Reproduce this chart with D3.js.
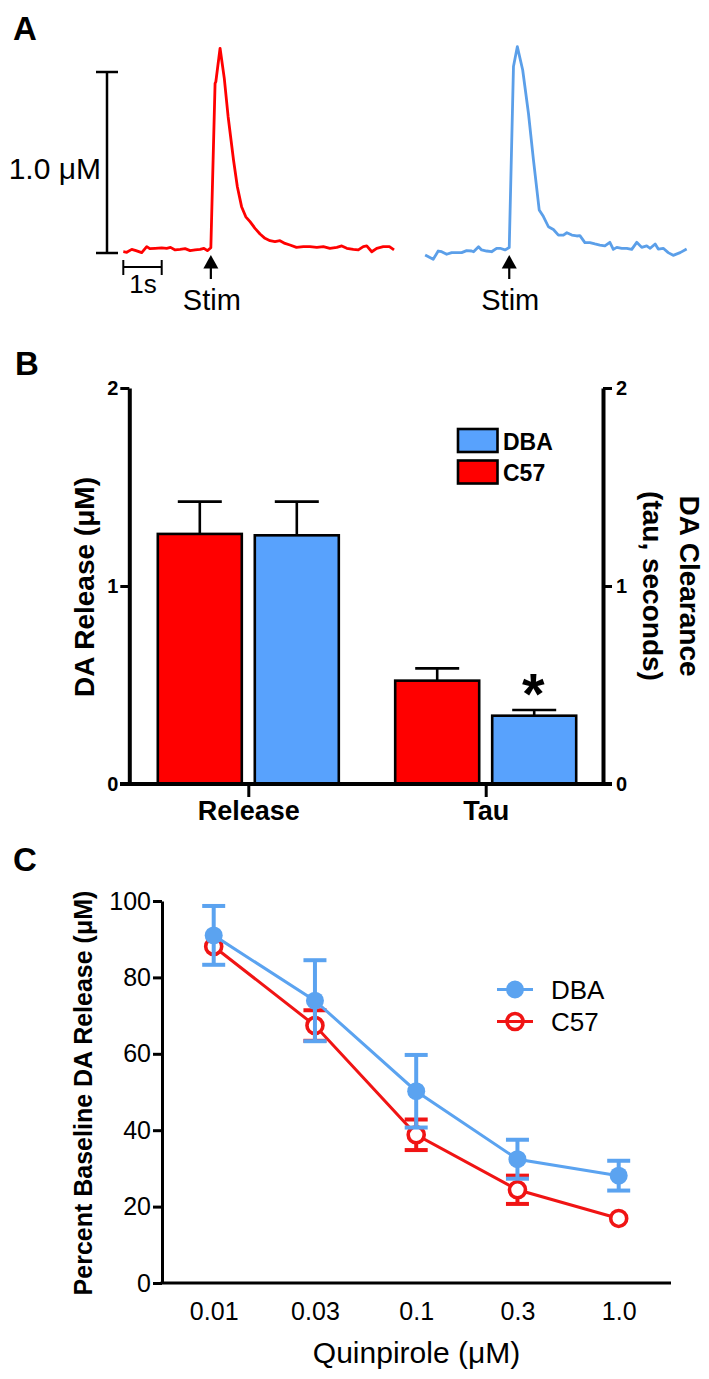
<!DOCTYPE html>
<html><head><meta charset="utf-8">
<script src="https://cdn.jsdelivr.net/npm/d3@7"></script>
<style>body{margin:0;background:#fff}svg{display:block;font-family:"Liberation Sans",Arial,Helvetica,sans-serif}</style>
</head><body><svg id="c" width="709" height="1379"></svg>
<script>
// ---------- Panel A: example voltammetry traces (t in s, conc in μM) ----------
const traceC57 = [[0,0.007],[0.09,0.004],[0.22,0.02],[0.33,0.013],[0.48,0.002],[0.61,0.035],[0.69,0.024],[0.83,0.026],[1.0,0.028],[1.13,0.026],[1.23,0.031],[1.35,0.017],[1.48,0.02],[1.61,0.024],[1.74,0.013],[1.87,0.017],[2.0,0.02],[2.1,0.026],[2.19,0.013],[2.28,0.029],[2.39,0.937],[2.41,0.946],[2.52,1.131],[2.63,0.965],[2.73,0.753],[2.87,0.514],[2.97,0.366],[3.08,0.256],[3.19,0.2],[3.3,0.173],[3.43,0.136],[3.56,0.105],[3.69,0.081],[3.82,0.068],[3.95,0.063],[4.08,0.068],[4.21,0.053],[4.34,0.044],[4.51,0.031],[4.69,0.035],[4.86,0.035],[5.04,0.031],[5.21,0.035],[5.38,0.026],[5.56,0.031],[5.69,0.039],[5.82,0.026],[5.99,0.02],[6.12,0.017],[6.25,0.035],[6.34,0.039],[6.47,0.007],[6.6,0.026],[6.77,0.035],[6.93,0.035],[7.05,0.017]];
const traceDBA = [[0.09,-0.011],[0.3,-0.035],[0.43,0.011],[0.52,0.007],[0.65,-0.007],[0.78,0.002],[0.91,0.002],[1.04,0.002],[1.17,0.013],[1.3,0.011],[1.35,0.007],[1.48,0.035],[1.56,0.017],[1.69,0.011],[1.82,0.007],[1.95,0.026],[2.04,0.026],[2.17,0.017],[2.28,0.03],[2.39,1.03],[2.49,1.14],[2.63,1.011],[2.78,0.772],[2.91,0.514],[3.06,0.238],[3.17,0.201],[3.3,0.145],[3.43,0.13],[3.56,0.099],[3.69,0.099],[3.78,0.112],[3.91,0.099],[4.04,0.094],[4.12,0.096],[4.25,0.057],[4.38,0.057],[4.51,0.05],[4.64,0.044],[4.77,0.039],[4.9,0.059],[4.99,0.02],[5.08,0.031],[5.21,0.026],[5.34,0.026],[5.47,0.02],[5.6,0.059],[5.73,0.031],[5.86,0.039],[5.95,0.026],[6.08,0.05],[6.16,0.022],[6.29,0.026],[6.42,0.002],[6.55,-0.013],[6.73,0.002],[6.9,0.022]];
const stimTime = 2.28;

// ---------- Panel B: release and tau ----------
const groupsB = ["Release", "Tau"];
const strainsB = ["C57", "DBA"];
const meanC57B = [1.263, 0.522];
const semC57B = [0.163, 0.062];
const meanDBAB = [1.256, 0.345];
const semDBAB = [0.17, 0.029];
const ticksB = [0, 1, 2];

// ---------- Panel C: quinpirole dose response ----------
const dosesC = ["0.01", "0.03", "0.1", "0.3", "1.0"];
const meanDBAC = [91.0, 73.9, 50.2, 32.4, 28.1];
const semDBAC = [7.7, 10.6, 9.5, 5.1, 3.9];
const meanC57C = [88.1, 67.4, 38.8, 24.4, 16.9];
const semC57C = [1.2, 4.0, 4.0, 3.7, 0.6];
const ticksC = [0, 20, 40, 60, 80, 100];

const RED = "#ff0000", BLUE_A = "#5b9fe9", BLUE_B = "#58a2fd", BLUE_C = "#5ba3f0", RED_C = "#f01414";
const svg = d3.select("#c");

// ================= Panel A =================
const gA = svg.append("g");
gA.append("text").attr("x", 13).attr("y", 40).attr("font-size", 33).attr("font-weight", "bold").text("A");
const yA = d3.scaleLinear().domain([0, 1]).range([253, 72]);
const xRed = d3.scaleLinear().domain([0, 1]).range([123.3, 161.7]);
const xBlue = d3.scaleLinear().domain([0, 1]).range([421.7, 460.1]);
gA.append("line").attr("x1", 107).attr("x2", 107).attr("y1", yA(0)).attr("y2", yA(1)).attr("stroke", "#000").attr("stroke-width", 2.5);
[0, 1].forEach(v => gA.append("line").attr("x1", 96).attr("x2", 118).attr("y1", yA(v)).attr("y2", yA(v)).attr("stroke", "#000").attr("stroke-width", 2.5));
gA.append("text").attr("x", 101).attr("y", 179).attr("text-anchor", "end").attr("font-size", 30).text("1.0 μM");
gA.append("line").attr("x1", xRed(0)).attr("x2", xRed(1)).attr("y1", 267).attr("y2", 267).attr("stroke", "#000").attr("stroke-width", 2);
[0, 1].forEach(t => gA.append("line").attr("x1", xRed(t)).attr("x2", xRed(t)).attr("y1", 260).attr("y2", 275).attr("stroke", "#000").attr("stroke-width", 2));
gA.append("text").attr("x", 143).attr("y", 293).attr("text-anchor", "middle").attr("font-size", 26).text("1s");
const lineA = (xs) => d3.line().x(d => xs(d[0])).y(d => yA(d[1]));
gA.append("path").datum(traceC57).attr("d", lineA(xRed)).attr("fill", "none").attr("stroke", RED).attr("stroke-width", 2.8).attr("stroke-linejoin", "round");
gA.append("path").datum(traceDBA).attr("d", lineA(xBlue)).attr("fill", "none").attr("stroke", BLUE_A).attr("stroke-width", 2.8).attr("stroke-linejoin", "round");
[xRed, xBlue].forEach(xs => {
  const x = xs(stimTime);
  gA.append("path").attr("d", `M${x},255 L${x - 7.5},268.5 L${x + 7.5},268.5 Z`).attr("fill", "#000");
  gA.append("line").attr("x1", x).attr("x2", x).attr("y1", 266).attr("y2", 279).attr("stroke", "#000").attr("stroke-width", 2.2);
  gA.append("text").attr("x", x + 1).attr("y", 310).attr("text-anchor", "middle").attr("font-size", 29).text("Stim");
});

// ================= Panel B =================
const gB = svg.append("g");
gB.append("text").attr("x", 15).attr("y", 375).attr("font-size", 33).attr("font-weight", "bold").text("B");
const yB = d3.scaleLinear().domain([0, 2]).range([784, 388]);
const xB = d3.scalePoint().domain(groupsB).range([248.3, 485.7]);
const xSub = d3.scaleBand().domain(strainsB).range([-90.5, 90.5]).paddingInner(0.134);
const barsB = [];
groupsB.forEach((g, i) => {
  barsB.push({ g, s: "C57", m: meanC57B[i], e: semC57B[i], c: RED });
  barsB.push({ g, s: "DBA", m: meanDBAB[i], e: semDBAB[i], c: BLUE_B });
});
barsB.forEach(d => {
  const cx = xB(d.g) + xSub(d.s) + xSub.bandwidth() / 2;
  gB.append("line").attr("x1", cx).attr("x2", cx).attr("y1", yB(d.m)).attr("y2", yB(d.m + d.e)).attr("stroke", "#000").attr("stroke-width", 2.6);
  gB.append("line").attr("x1", cx - 22).attr("x2", cx + 22).attr("y1", yB(d.m + d.e)).attr("y2", yB(d.m + d.e)).attr("stroke", "#000").attr("stroke-width", 2.6);
});
gB.selectAll("rect.bar").data(barsB).enter().append("rect").attr("class", "bar")
  .attr("x", d => xB(d.g) + xSub(d.s)).attr("width", xSub.bandwidth())
  .attr("y", d => yB(d.m)).attr("height", d => yB(0) - yB(d.m))
  .attr("fill", d => d.c).attr("stroke", "#000").attr("stroke-width", 2.6);
const axL = gB.append("g").attr("transform", "translate(129.3,0)").call(d3.axisLeft(yB).tickValues(ticksB).tickFormat(d3.format("d")).tickSize(9).tickSizeOuter(0));
const axR = gB.append("g").attr("transform", "translate(603,0)").call(d3.axisRight(yB).tickValues(ticksB).tickFormat(d3.format("d")).tickSize(9).tickSizeOuter(0));
[axL, axR].forEach(a => {
  a.select(".domain").attr("stroke-width", 4);
  a.selectAll(".tick line").attr("stroke-width", 3);
  a.selectAll(".tick text").attr("font-size", 20).attr("font-weight", "bold").attr("font-family", "Liberation Sans, Arial, sans-serif");
});
axL.selectAll(".tick text").attr("x", -11);
axR.selectAll(".tick text").attr("x", 13);
gB.append("line").attr("x1", 120).attr("x2", 612).attr("y1", yB(0)).attr("y2", yB(0)).attr("stroke", "#000").attr("stroke-width", 4);
const axB = gB.append("g").attr("transform", `translate(0,${yB(0)})`).call(d3.axisBottom(xB).tickSize(13).tickSizeOuter(0));
axB.select(".domain").remove();
axB.selectAll(".tick line").attr("stroke-width", 3);
axB.selectAll(".tick text").attr("font-size", 27).attr("font-weight", "bold").attr("font-family", "Liberation Sans, Arial, sans-serif").attr("dy", null).attr("y", 36);
gB.append("text").attr("x", xB("Tau") + xSub("DBA") + xSub.bandwidth() / 2 - 1).attr("y", 714).attr("text-anchor", "middle").attr("font-size", 58).attr("font-weight", "bold").text("*");
const legB = [{ s: "DBA", c: BLUE_B, y: 429 }, { s: "C57", c: RED, y: 460.5 }];
legB.forEach(d => {
  gB.append("rect").attr("x", 458).attr("y", d.y).attr("width", 39.5).attr("height", 23).attr("fill", d.c).attr("stroke", "#000").attr("stroke-width", 2.6);
  gB.append("text").attr("x", 503).attr("y", d.y + 20.5).attr("font-size", 23).attr("font-weight", "bold").text(d.s);
});
gB.append("text").attr("transform", "translate(84,587) rotate(-90)").attr("text-anchor", "middle").attr("dominant-baseline", "central").attr("font-size", 28).attr("font-weight", "bold").text("DA Release (μM)");
gB.append("text").attr("transform", "translate(689,586) rotate(90)").attr("text-anchor", "middle").attr("dominant-baseline", "central").attr("font-size", 28).attr("font-weight", "bold").text("DA Clearance");
gB.append("text").attr("transform", "translate(652,586) rotate(90)").attr("text-anchor", "middle").attr("dominant-baseline", "central").attr("font-size", 28).attr("font-weight", "bold").text("(tau, seconds)");

// ================= Panel C =================
const gC = svg.append("g");
gC.append("text").attr("x", 13).attr("y", 871).attr("font-size", 33).attr("font-weight", "bold").text("C");
const xC = d3.scalePoint().domain(dosesC).range([213.7, 618.7]);
const yC = d3.scaleLinear().domain([0, 100]).range([1283, 901]);
const axCL = gC.append("g").attr("transform", "translate(162,0)").call(d3.axisLeft(yC).tickValues(ticksC).tickSize(9).tickSizeOuter(0));
axCL.select(".domain").attr("stroke-width", 3);
axCL.selectAll(".tick line").attr("stroke-width", 3);
axCL.selectAll(".tick text").attr("font-size", 25).attr("x", -11).attr("font-family", "Liberation Sans, Arial, sans-serif");
gC.append("line").attr("x1", 160.5).attr("x2", 671).attr("y1", yC(0)).attr("y2", yC(0)).attr("stroke", "#000").attr("stroke-width", 3);
const axCB = gC.append("g").attr("transform", `translate(0,${yC(0)})`).call(d3.axisBottom(xC).tickSize(0));
axCB.select(".domain").remove();
axCB.selectAll(".tick text").attr("font-size", 25).attr("dy", null).attr("y", 37).attr("font-family", "Liberation Sans, Arial, sans-serif");
gC.append("text").attr("x", 416.5).attr("y", 1363).attr("text-anchor", "middle").attr("font-size", 30).text("Quinpirole (μM)");
gC.append("text").attr("transform", "translate(83,1093) rotate(-90)").attr("text-anchor", "middle").attr("dominant-baseline", "central").attr("font-size", 25).attr("font-weight", "bold").text("Percent Baseline DA Release (μM)");

function series(means, sems, color, filled) {
  const r = filled ? 9 : 8;
  const pts = dosesC.map((d, i) => ({ d, m: means[i], e: sems[i] }));
  const g = gC.append("g");
  g.append("path").datum(pts).attr("d", d3.line().x(p => xC(p.d)).y(p => yC(p.m))).attr("fill", "none").attr("stroke", color).attr("stroke-width", 3);
  pts.forEach(p => {
    const x = xC(p.d);
    // error bars shorter than the symbol are hidden behind it (as in the original)
    if (Math.abs(yC(p.m + p.e) - yC(p.m)) <= r + 2) return;
    g.append("line").attr("x1", x).attr("x2", x).attr("y1", yC(p.m - p.e)).attr("y2", yC(p.m + p.e)).attr("stroke", color).attr("stroke-width", 4);
    [p.m - p.e, p.m + p.e].forEach(v => g.append("line").attr("x1", x - 11.5).attr("x2", x + 11.5).attr("y1", yC(v)).attr("y2", yC(v)).attr("stroke", color).attr("stroke-width", 4));
  });
  g.selectAll("circle").data(pts).enter().append("circle").attr("cx", p => xC(p.d)).attr("cy", p => yC(p.m))
    .attr("r", r).attr("fill", filled ? color : "#fff").attr("stroke", color).attr("stroke-width", filled ? 0 : 3.6);
}
series(meanC57C, semC57C, RED_C, false);
series(meanDBAC, semDBAC, BLUE_C, true);
const legC = [{ s: "DBA", c: BLUE_C, f: true, y: 989.5 }, { s: "C57", c: RED_C, f: false, y: 1021.5 }];
legC.forEach(d => {
  gC.append("line").attr("x1", 497).attr("x2", 533).attr("y1", d.y).attr("y2", d.y).attr("stroke", d.c).attr("stroke-width", 3);
  gC.append("circle").attr("cx", 515).attr("cy", d.y).attr("r", d.f ? 9 : 8).attr("fill", d.f ? d.c : "none").attr("stroke", d.c).attr("stroke-width", d.f ? 0 : 3.6);
  gC.append("text").attr("x", 551).attr("y", d.y + 9).attr("font-size", 26).text(d.s);
});
</script></body></html>
